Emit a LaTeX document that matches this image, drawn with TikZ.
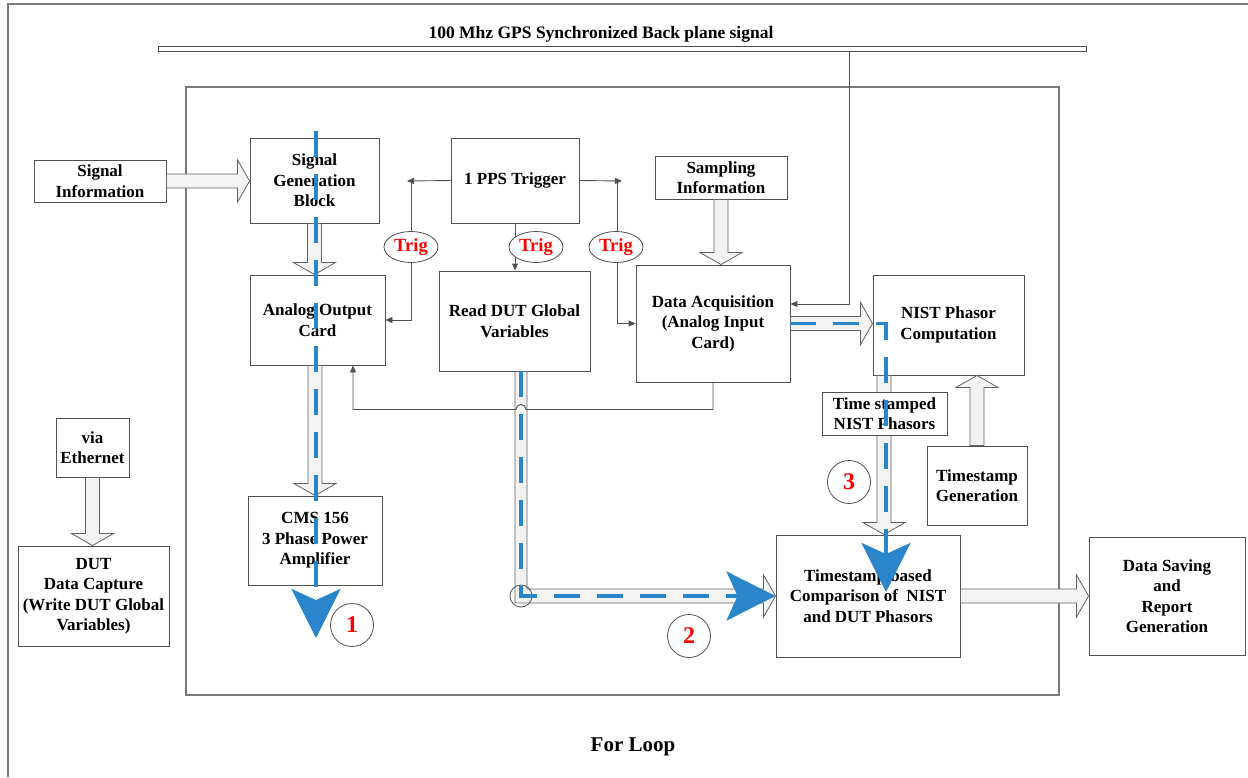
\documentclass[tikz,border=0pt]{standalone}
\usepackage{fontspec}
\setmainfont{Liberation Serif}
\usetikzlibrary{arrows.meta,calc,shapes.geometric,shadows}

\definecolor{edgegray}{HTML}{505050}
\definecolor{framegray}{HTML}{7A7A7A}
\definecolor{flowblue}{HTML}{2A85CA}
\definecolor{trigred}{HTML}{FF0000}
\definecolor{shaftfill}{HTML}{F3F3F3}

\tikzset{
  box/.style={draw=edgegray, fill=white, line width=0.9pt, align=center, inner sep=0pt,
    font=\fontsize{17}{20.5}\selectfont\bfseries,
    drop shadow={shadow xshift=1.3pt, shadow yshift=-1.3pt, fill=black!30, opacity=0.5}},
  trig/.style={ellipse, draw=edgegray, fill=white, line width=0.8pt, minimum width=54pt,
    minimum height=31pt, inner sep=0pt, text=trigred, font=\fontsize{18.5}{20}\selectfont\bfseries},
  stepnum/.style={circle, draw=edgegray, fill=white, line width=0.8pt, minimum size=43pt,
    inner sep=0pt, text=trigred, font=\fontsize{24}{24}\selectfont\bfseries},
  frame/.style={draw=framegray, line width=1.2pt},
  wire/.style={draw=edgegray, line width=0.9pt},
  wirearrow/.style={wire, -{Triangle[length=7pt,width=6pt]}},
  fat/.style={draw=edgegray!90, fill=shaftfill, line width=0.8pt, line join=miter},
  flow/.style={draw=flowblue, line width=3.3pt, dash pattern=on 26pt off 17pt,
    -{Stealth[length=49pt,width=49pt,inset=11pt]}},
}

% hollow block arrow from #1 to #2 (shaft 14pt, head 42pt wide, 12pt long)
\newcommand\fatarrow[2]{%
  \coordinate (fas) at #1;
  \coordinate (fae) at #2;
  \coordinate (fab) at ($(fae)!12pt!(fas)$);
  \draw[fat] ($(fas)!7pt!90:(fae)$) -- ($(fab)!7pt!-90:(fas)$) -- ($(fab)!21pt!-90:(fas)$)
    -- (fae) -- ($(fab)!21pt!90:(fas)$) -- ($(fab)!7pt!90:(fas)$) -- ($(fas)!7pt!-90:(fae)$) -- cycle;}

\begin{document}
\begin{tikzpicture}[x=1pt,y=-1pt]
\useasboundingbox (0,0) rectangle (1248,777);

% frames
\draw[frame] (8,777) -- (8,4) -- (1248,4);
\draw[frame] (186,87) rectangle (1059,695);

% backplane bus
\node[draw=edgegray, fill=white, line width=0.9pt, minimum width=928pt, minimum height=5pt, inner sep=0pt] (bar) at (622,48.5) {};
\node[font=\fontsize{17.5}{20}\selectfont\bfseries] (bartitle) at (601,34) {100 Mhz GPS Synchronized Back plane signal};

% blocks
\node[box, minimum width=132pt, minimum height=42pt] (si) at (100,181) {Signal\\Information};
\node[box, minimum width=129pt, minimum height=85pt] (sg) at (314.5,180.5) {Signal\\Generation\\Block};
\node[box, minimum width=128pt, minimum height=85pt] (pps) at (515,180.5) {1 PPS Trigger};
\node[box, minimum width=132pt, minimum height=43pt] (sp) at (721,177.5) {Sampling\\Information};
\node[box, minimum width=135pt, minimum height=90pt] (ao) at (317.5,320) {Analog Output\\Card};
\node[box, minimum width=151pt, minimum height=100pt] (rd) at (514.5,321) {Read DUT Global\\Variables};
\node[box, minimum width=154pt, minimum height=117pt] (da) at (713,323.5) {Data Acquisition\\(Analog Input\\Card)};
\node[box, minimum width=151pt, minimum height=100pt] (nist) at (948.5,325) {NIST Phasor\\Computation};
\node[box, minimum width=100pt, minimum height=79pt] (tsg) at (977,485.5) {Timestamp\\Generation};
\node[box, minimum width=134pt, minimum height=89pt] (cms) at (315,540.5) {CMS 156\\3 Phase Power\\Amplifier};
\node[box, minimum width=73pt, minimum height=59pt] (eth) at (92.5,447.5) {via\\Ethernet};
\node[box, minimum width=151pt, minimum height=100pt] (dut) at (93.5,596) {DUT\\Data Capture\\(Write DUT Global\\Variables)};
\node[box, minimum width=184pt, minimum height=122pt] (cmp) at (868,596) {Timestamp based\\Comparison of~~NIST\\and DUT Phasors};
\node[box, minimum width=156pt, minimum height=118pt] (ds) at (1167,596) {Data Saving\\and\\Report\\Generation};

% hollow block arrows
\fatarrow{(si.east)}{(si.east -| sg.west)}
\fatarrow{(sg.south)}{(sg.south |- ao.north)}
\fatarrow{(cms.north |- ao.south)}{(cms.north)}
\fatarrow{(sp.south)}{(sp.south |- da.north)}
\fatarrow{(da.east)}{(da.east -| nist.west)}
\coordinate (ntap) at ($(nist.south west)+(11.5,0)$);
\fatarrow{(ntap)}{(ntap |- cmp.north)}
\fatarrow{(tsg.north)}{(tsg.north |- nist.south)}
\fatarrow{(cmp.east)}{(cmp.east -| ds.west)}
\fatarrow{(eth.south)}{(eth.south |- dut.north)}

% L-shaped block arrow from the DUT variables to the comparison
\coordinate (elbow) at (521,596);
\draw[fat] ($(rd.south -| elbow)+(-6,0)$) |- ($(cmp.west)+(-12,7)$) -- ($(cmp.west)+(-12,21)$)
  -- (cmp.west) -- ($(cmp.west)+(-12,-21)$) -- ($(cmp.west)+(-12,-7)$)
  -| ($(rd.south -| elbow)+(6,0)$) -- cycle;
\node[circle, draw=edgegray, line width=0.8pt, minimum size=22pt, inner sep=0pt] (elbowring) at (elbow) {};

% label on the NIST phasor output
\node[box, minimum width=125pt, minimum height=43pt] (tsp) at (884.5,413.5) {Time stamped\\NIST Phasors};

% trigger wiring
\coordinate (tlc) at (411,181);
\coordinate (trc) at (617,181);
\draw[wirearrow] (pps.west) -- ($(tlc)+(-4,0)$);
\draw[wirearrow] (tlc) -- (tlc |- ao.east) -- (ao.east);
\draw[wirearrow] (pps.east) -- ($(trc)+(5,0)$);
\draw[wirearrow] (trc) -- (trc |- da.west) -- (da.west);
\draw[wirearrow] (pps.south) -- (pps.south |- rd.north);

% feedback from acquisition to analog output, hopping over the block arrow
\coordinate (aoin) at ($(ao.south)+(35.5,0)$);
\draw[wirearrow] (da.south) |- ($(elbow |- aoin)+(5,44)$)
  arc[start angle=0, end angle=180, radius=5pt] -- ($(aoin)+(0,44)$) -- (aoin);

% backplane clock into acquisition
\coordinate (bp) at (849,304);
\draw[wirearrow] (bar.south -| bp) -- (bp) -- (bp -| da.east);

% trigger tags
\node[trig] (trigL) at (411,247) {Trig};
\node[trig] (trigM) at (536,247) {Trig};
\node[trig] (trigR) at (616,247) {Trig};

% data flow paths
\coordinate (f1s) at (316,131);
\coordinate (f1e) at (316,638);
\draw[flow] (f1s) -- (f1e);
\draw[flow] (rd.south -| elbow) -- (elbow) -- (cmp.west);
\coordinate (f3e) at (886,592);
\draw[flow] (da.east) -- (da.east -| f3e) -- (f3e);

% path numbers
\node[stepnum] (n1) at (352,625) {1};
\node[stepnum] (n2) at (689,636) {2};
\node[stepnum] (n3) at (849,482) {3};

\node[font=\fontsize{21}{24}\selectfont\bfseries] (loop) at (633,747) {For Loop};
\end{tikzpicture}
\end{document}
